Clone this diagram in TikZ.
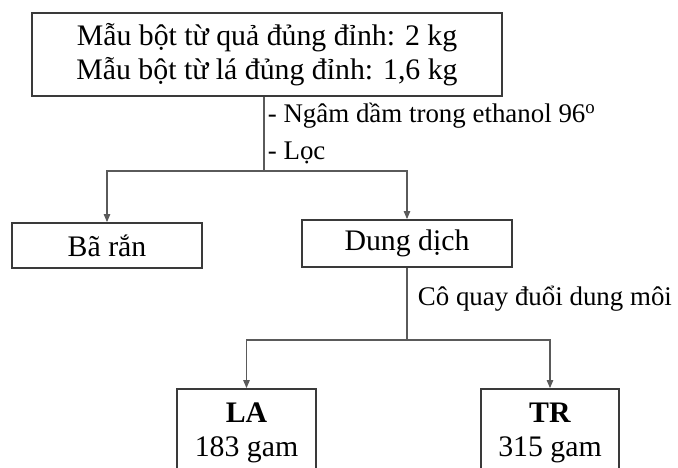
\documentclass[tikz,border=0pt]{standalone}
\usepackage{fontspec}
\setmainfont{Liberation Serif}
\usetikzlibrary{arrows.meta, positioning}
\definecolor{frame}{HTML}{3A3A3A}
\definecolor{linec}{HTML}{5A5A5A}

\begin{document}
\begin{tikzpicture}[
    x = 1pt, y = -1pt,
    > = {Triangle[length=8pt, width=6.5pt]},
    box/.style   = {draw=frame, line width=1.8pt, align=center, inner sep=0pt,
                    font=\fontsize{29.8}{34}\selectfont},
    conn/.style  = {line width=1.1pt, draw=linec},
    flow/.style  = {conn, ->},
    note/.style  = {font=\fontsize{26.9}{37}\selectfont, align=left},
]

\useasboundingbox (0,0) rectangle (678,468);
\clip (0,0) rectangle (678,468);

% --------------------------------------------- boxes ---------------------------------------------
\node[box, minimum width=470pt, minimum height=83pt] (sample) at (267,54.5)
    {Mẫu bột từ quả đủng đỉnh: 2 kg\\Mẫu bột từ lá đủng đỉnh: 1,6 kg};
\node[box, minimum width=190pt, minimum height=45pt] (residue) at (107,245.5) {Bã rắn};
\node[box, minimum width=210pt, minimum height=47pt] (extract) at (407,243.5) {Dung dịch};
\node[box, minimum width=139pt, minimum height=87pt] (la) at (246.5,432.5) {\textbf{LA}\\183 gam};
\node[box, minimum width=138pt, minimum height=87pt] (tr) at (550,432.5) {\textbf{TR}\\315 gam};

% ------------------------------------------ branch points -----------------------------------------
\coordinate (split1) at (264,171);
\coordinate (split2) at (extract.south |- 0,340);

% --------------------------------------------- arrows ---------------------------------------------
\draw[conn] (sample.south -| split1) -- node[right, note]
    {- Ngâm dầm trong ethanol 96\textsuperscript{o}\\- Lọc} (split1);
\draw[flow] (split1) -| (residue);
\draw[flow] (split1) -| (extract);

\draw[conn] (extract.south) -- node[right, note, pos=0.42, xshift=7pt]
    {Cô quay đuổi dung môi} (split2);
\draw[flow] (split2) -| (la);
\draw[flow] (split2) -| (tr);

\end{tikzpicture}
\end{document}
